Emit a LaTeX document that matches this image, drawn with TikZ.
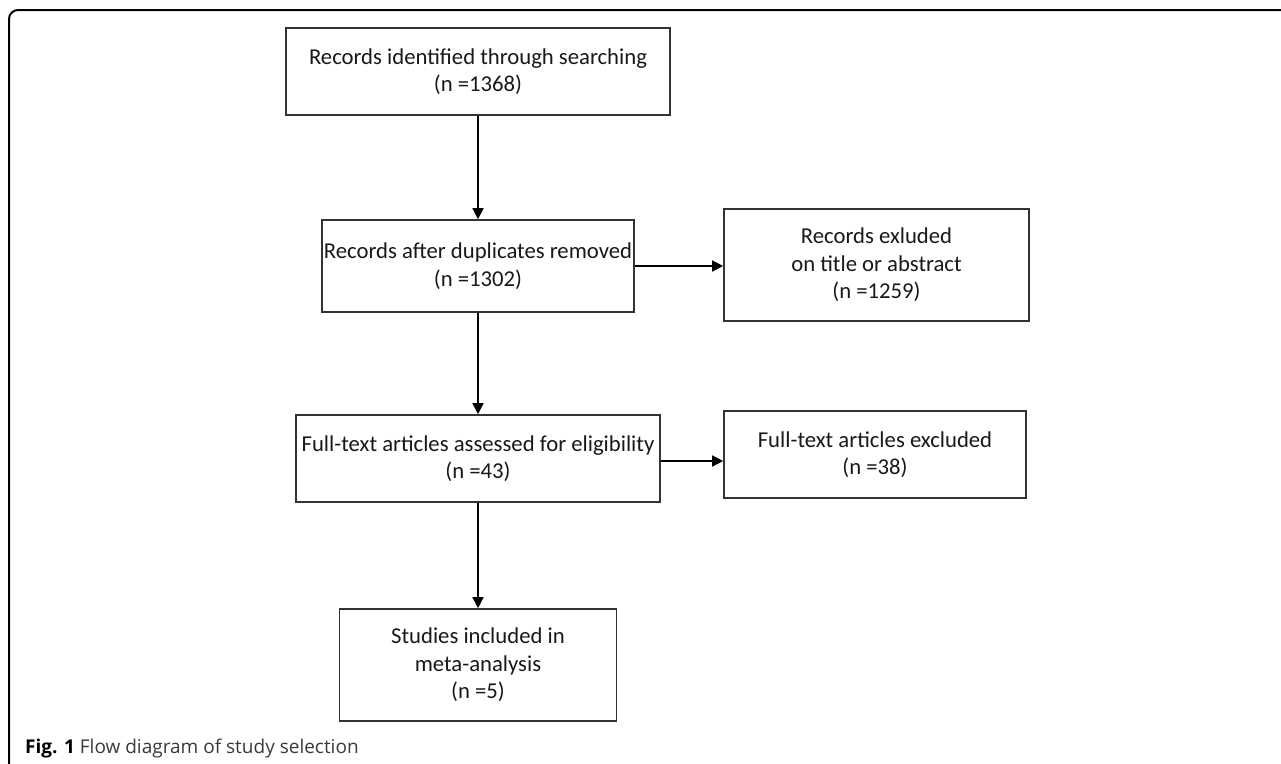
\documentclass[tikz,border=0pt]{standalone}
\usepackage{fontspec}
\setmainfont{Carlito}
\newfontfamily\capfont{Open Sans}
\usetikzlibrary{arrows.meta}
\definecolor{boxline}{HTML}{333333}
\definecolor{captxt}{HTML}{3A3A3A}
\tikzset{
  flowbox/.style={draw=boxline, line width=1.6pt, align=center, inner sep=0pt,
    font=\fontsize{22.7}{27.5}\selectfont, text=black!90},
  flowarrow/.style={draw=black, line width=1.4pt, -{Triangle[length=11pt,width=11pt]}},
}
\begin{document}
\begin{tikzpicture}[x=1pt,y=-1pt]
\useasboundingbox (0,0) rectangle (1281,763);
\fill[white] (0,0) rectangle (1281,763);
% outer frame
\draw[line width=2pt, rounded corners=9pt] (1300,10) -- (9,10) -- (9,780);
% boxes
\node[flowbox, minimum width=384pt, minimum height=87pt] (b1) at (478,71.5)
  {Records identified through searching\\(n =1368)};
\node[flowbox, minimum width=312pt, minimum height=92pt] (b2) at (478,266)
  {Records after duplicates removed\\(n =1302)};
\node[flowbox, minimum width=305pt, minimum height=112pt] (b3) at (876.5,265)
  {Records exluded\\on title or abstract\\(n =1259)};
\node[flowbox, minimum width=364pt, minimum height=87pt] (b4) at (478,458.5)
  {Full-text articles assessed for eligibility\\(n =43)};
\node[flowbox, minimum width=302pt, minimum height=87pt] (b5) at (875,454.5)
  {Full-text articles excluded\\(n =38)};
\node[flowbox, minimum width=277pt, minimum height=112pt] (b6) at (478,665)
  {Studies included in\\meta-analysis\\(n =5)};
% connectors
\draw[flowarrow] (b1.south) -- (b2.north);
\draw[flowarrow] (b2.south) -- (b4.north);
\draw[flowarrow] (b4.south) -- (b6.north);
\draw[flowarrow] (b2.east) -- (b2.east -| b3.west);
\draw[flowarrow] ([yshift=-2.5pt]b4.east) -- ([yshift=-2.5pt]b4.east -| b5.west);
% caption
\node[anchor=base west, inner sep=0pt, font=\capfont\fontsize{19}{22}\selectfont, text=captxt] (cap) at (25,753)
  {\textbf{\color{black}Fig. 1} Flow diagram of study selection};
\end{tikzpicture}
\end{document}
